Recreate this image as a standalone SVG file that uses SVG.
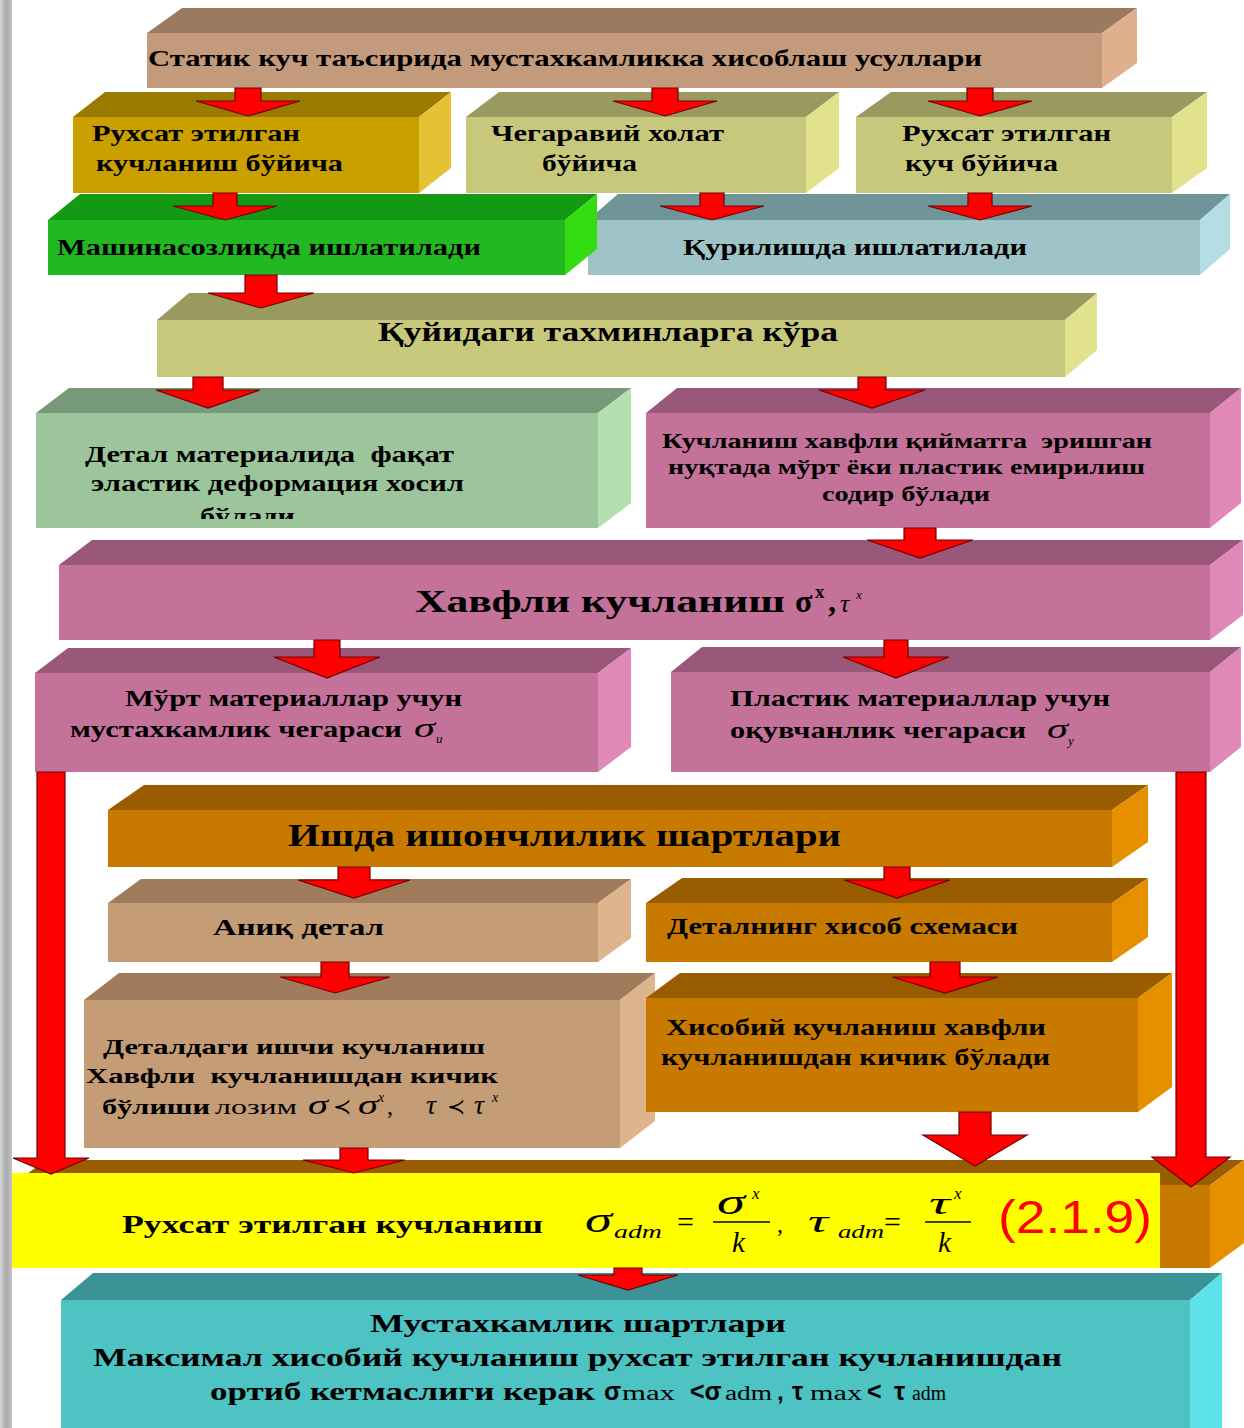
<svg xmlns="http://www.w3.org/2000/svg" width="1244" height="1428" viewBox="0 0 1244 1428">
<defs>
<style>
.t{font-family:"Liberation Serif","DejaVu Serif",serif;font-weight:bold;fill:#000}
.r{font-family:"Liberation Serif","DejaVu Serif",serif;font-weight:normal;fill:#000}
.m{font-family:"Liberation Serif","DejaVu Serif",serif;font-style:italic;font-weight:normal;fill:#000}
.s{font-family:"Liberation Sans","DejaVu Sans",sans-serif;font-weight:bold;fill:#000}
.arr{fill:#ff0000;stroke:#700000;stroke-width:1.2;stroke-linejoin:miter}
.tanT{fill:#9c7a60}.tanR{fill:#e0b08e}.tanF{fill:#c49a7c}
.goldT{fill:#9a7b00}.goldR{fill:#e5c233}.goldF{fill:#c9a000}
.oliT{fill:#9a9a60}.oliR{fill:#e2e28e}.oliF{fill:#c8c87c}
.grnT{fill:#139913}.grnR{fill:#33dd11}.grnF{fill:#22b822}
.bluT{fill:#6f9599}.bluR{fill:#b3dee4}.bluF{fill:#9ec4c8}
.lgT{fill:#78987a}.lgR{fill:#b4e0b0}.lgF{fill:#9dc59c}
.pkT{fill:#99587a}.pkR{fill:#e088b8}.pkF{fill:#c4729a}
.orT{fill:#9a5c00}.orR{fill:#e69000}.orF{fill:#c87a00}
.ltT{fill:#a07c5c}.ltR{fill:#ddb48c}.ltF{fill:#c49c76}
.tlT{fill:#3b9398}.tlR{fill:#5ee3e8}.tlF{fill:#4dc3c4}
</style>
<linearGradient id="strip" x1="0" y1="0" x2="1" y2="0">
<stop offset="0" stop-color="#d6d6d6"/><stop offset="0.5" stop-color="#a9a9a9"/><stop offset="1" stop-color="#c4c4c4"/>
</linearGradient>
<clipPath id="clipE1"><rect x="36" y="413" width="562" height="106"/></clipPath>
</defs>
<rect width="1244" height="1428" fill="#ffffff"/>
<rect x="0" y="0" width="12" height="1428" fill="url(#strip)"/>

<g id="nodeA">
<polygon class="tanT" points="147,33 182,8 1137,8 1102,33"/>
<polygon class="tanR" points="1102,33 1137,8 1137,63 1102,88"/>
<rect class="tanF" x="147" y="33" width="955" height="55"/>
<text class="t" x="148" y="66" font-size="24" textLength="834" lengthAdjust="spacingAndGlyphs">Статик куч таъсирида мустахкамликка хисоблаш усуллари</text>
</g>

<g id="nodeB1">
<polygon class="goldT" points="73,117 105,92 451,92 419,117"/>
<polygon class="goldR" points="419,117 451,92 451,168 419,193"/>
<rect class="goldF" x="73" y="117" width="346" height="76"/>
<text class="t" x="92" y="141" font-size="24" textLength="208" lengthAdjust="spacingAndGlyphs">Рухсат этилган</text>
<text class="t" x="96" y="171" font-size="24" textLength="247" lengthAdjust="spacingAndGlyphs">кучланиш бўйича</text>
</g>

<g id="nodeB2">
<polygon class="oliT" points="466,117 499,92 839,92 806,117"/>
<polygon class="oliR" points="806,117 839,92 839,168 806,193"/>
<rect class="oliF" x="466" y="117" width="340" height="76"/>
<text class="t" x="491" y="141" font-size="24" textLength="233" lengthAdjust="spacingAndGlyphs">Чегаравий холат</text>
<text class="t" x="542" y="171" font-size="24" textLength="95" lengthAdjust="spacingAndGlyphs">бўйича</text>
</g>

<g id="nodeB3">
<polygon class="oliT" points="856,117 891,92 1207,92 1172,117"/>
<polygon class="oliR" points="1172,117 1207,92 1207,168 1172,193"/>
<rect class="oliF" x="856" y="117" width="316" height="76"/>
<text class="t" x="902" y="141" font-size="24" textLength="209" lengthAdjust="spacingAndGlyphs">Рухсат этилган</text>
<text class="t" x="905" y="171" font-size="24" textLength="153" lengthAdjust="spacingAndGlyphs">куч бўйича</text>
</g>

<g id="nodeC2">
<polygon class="bluT" points="588,220 618,194 1230,194 1200,220"/>
<polygon class="bluR" points="1200,220 1230,194 1230,249 1200,275"/>
<rect class="bluF" x="588" y="220" width="612" height="55"/>
<text class="t" x="683" y="255" font-size="24" textLength="344" lengthAdjust="spacingAndGlyphs">Қурилишда ишлатилади</text>
</g>

<g id="nodeC1">
<polygon class="grnT" points="48,220 80,194 597,194 565,220"/>
<polygon class="grnR" points="565,220 597,194 597,249 565,275"/>
<rect class="grnF" x="48" y="220" width="517" height="55"/>
<text class="t" x="57" y="255" font-size="24" textLength="424" lengthAdjust="spacingAndGlyphs">Машинасозликда ишлатилади</text>
</g>

<g id="nodeD">
<polygon class="oliT" points="157,320 189,293 1097,293 1065,320"/>
<polygon class="oliR" points="1065,320 1097,293 1097,350 1065,377"/>
<rect class="oliF" x="157" y="320" width="908" height="57"/>
<text class="t" x="378" y="341" font-size="27" textLength="460" lengthAdjust="spacingAndGlyphs">Қуйидаги тахминларга кўра</text>
</g>

<g id="nodeE1">
<polygon class="lgT" points="36,413 69,388 631,388 598,413"/>
<polygon class="lgR" points="598,413 631,388 631,503 598,528"/>
<rect class="lgF" x="36" y="413" width="562" height="115"/>
<text class="t" x="85" y="462" font-size="23" textLength="369" lengthAdjust="spacingAndGlyphs" xml:space="preserve">Детал материалида  фақат</text>
<text class="t" x="91" y="491" font-size="23" textLength="373" lengthAdjust="spacingAndGlyphs">эластик деформация хосил</text>
<text class="t" x="200" y="524" font-size="23" textLength="95" lengthAdjust="spacingAndGlyphs" clip-path="url(#clipE1)">бўлади</text>
</g>

<g id="nodeE2">
<polygon class="pkT" points="646,413 677,388 1241,388 1210,413"/>
<polygon class="pkR" points="1210,413 1241,388 1241,503 1210,528"/>
<rect class="pkF" x="646" y="413" width="564" height="115"/>
<text class="t" x="662" y="448" font-size="21" textLength="490" lengthAdjust="spacingAndGlyphs" xml:space="preserve">Кучланиш хавфли қийматга  эришган</text>
<text class="t" x="668" y="474" font-size="21" textLength="477" lengthAdjust="spacingAndGlyphs">нуқтада мўрт ёки пластик емирилиш</text>
<text class="t" x="822" y="501" font-size="21" textLength="168" lengthAdjust="spacingAndGlyphs">содир бўлади</text>
</g>

<g id="nodeF">
<polygon class="pkT" points="59,565 92,540 1243,540 1210,565"/>
<polygon class="pkR" points="1210,565 1243,540 1243,615 1210,640"/>
<rect class="pkF" x="59" y="565" width="1151" height="75"/>
<text class="t" x="415" y="612" font-size="32" textLength="370" lengthAdjust="spacingAndGlyphs">Хавфли кучланиш</text>
<text class="t" x="795" y="612" font-size="32">σ</text>
<text class="t" x="815" y="598" font-size="19">x</text>
<text class="t" x="828" y="612" font-size="32">,</text>
<text class="m" x="840" y="612" font-size="26">τ</text>
<text class="m" x="856" y="599" font-size="13">x</text>
</g>

<g id="nodeG1">
<polygon class="pkT" points="35,673 68,648 631,648 598,673"/>
<polygon class="pkR" points="598,673 631,648 631,747 598,772"/>
<rect class="pkF" x="35" y="673" width="563" height="99"/>
<text class="t" x="125" y="706" font-size="23" textLength="337" lengthAdjust="spacingAndGlyphs">Мўрт материаллар учун</text>
<text class="t" x="70" y="737" font-size="23" textLength="332" lengthAdjust="spacingAndGlyphs">мустахкамлик чегараси</text>
<text class="m" x="414" y="737" font-size="28" textLength="21" lengthAdjust="spacingAndGlyphs">σ</text>
<text class="m" x="436" y="743" font-size="13">u</text>
</g>

<g id="nodeG2">
<polygon class="pkT" points="671,672 702,647 1241,647 1210,672"/>
<polygon class="pkR" points="1210,672 1241,647 1241,747 1210,772"/>
<rect class="pkF" x="671" y="672" width="539" height="100"/>
<text class="t" x="730" y="706" font-size="23" textLength="380" lengthAdjust="spacingAndGlyphs">Пластик материаллар учун</text>
<text class="t" x="730" y="738" font-size="23" textLength="296" lengthAdjust="spacingAndGlyphs">оқувчанлик чегараси</text>
<text class="m" x="1047" y="738" font-size="28" textLength="21" lengthAdjust="spacingAndGlyphs">σ</text>
<text class="m" x="1068" y="745" font-size="13">y</text>
</g>

<g id="nodeH">
<polygon class="orT" points="108,810 144,785 1148,785 1112,810"/>
<polygon class="orR" points="1112,810 1148,785 1148,842 1112,867"/>
<rect class="orF" x="108" y="810" width="1004" height="57"/>
<text class="t" x="288" y="846" font-size="32" textLength="553" lengthAdjust="spacingAndGlyphs">Ишда ишончлилик шартлари</text>
</g>

<g id="nodeI1">
<polygon class="ltT" points="108,903 141,879 631,879 598,903"/>
<polygon class="ltR" points="598,903 631,879 631,938 598,962"/>
<rect class="ltF" x="108" y="903" width="490" height="59"/>
<text class="t" x="213" y="935" font-size="23" textLength="171" lengthAdjust="spacingAndGlyphs">Аниқ детал</text>
</g>

<g id="nodeI2">
<polygon class="orT" points="646,903 682,878 1148,878 1112,903"/>
<polygon class="orR" points="1112,903 1148,878 1148,937 1112,962"/>
<rect class="orF" x="646" y="903" width="466" height="59"/>
<text class="t" x="667" y="934" font-size="23" textLength="351" lengthAdjust="spacingAndGlyphs">Деталнинг хисоб схемаси</text>
</g>

<g id="nodeJ1">
<polygon class="ltT" points="84,1000 119,973 655,973 620,1000"/>
<polygon class="ltR" points="620,1000 655,973 655,1121 620,1148"/>
<rect class="ltF" x="84" y="1000" width="536" height="148"/>
<text class="t" x="103" y="1054" font-size="22" textLength="382" lengthAdjust="spacingAndGlyphs">Деталдаги ишчи кучланиш</text>
<text class="t" x="86" y="1083" font-size="22" textLength="412" lengthAdjust="spacingAndGlyphs" xml:space="preserve">Хавфли  кучланишдан кичик</text>
<text class="t" x="102" y="1114" font-size="22" textLength="108" lengthAdjust="spacingAndGlyphs">бўлиши</text>
<text class="r" x="215" y="1114" font-size="22" textLength="82" lengthAdjust="spacingAndGlyphs">лозим</text>
<text class="m" x="308" y="1114" font-size="28" textLength="20" lengthAdjust="spacingAndGlyphs">σ</text>
<text class="r" x="333" y="1114" font-size="22" font-family="DejaVu Sans">≺</text>
<text class="m" x="358" y="1114" font-size="28" textLength="20" lengthAdjust="spacingAndGlyphs">σ</text>
<text class="m" x="378" y="1102" font-size="14">x</text>
<text class="r" x="387" y="1114" font-size="24">,</text>
<text class="m" x="426" y="1114" font-size="28">τ</text>
<text class="r" x="447" y="1114" font-size="22" font-family="DejaVu Sans">≺</text>
<text class="m" x="474" y="1114" font-size="28">τ</text>
<text class="m" x="492" y="1102" font-size="14">x</text>
</g>

<g id="nodeJ2">
<polygon class="orT" points="646,998 680,973 1172,973 1138,998"/>
<polygon class="orR" points="1138,998 1172,973 1172,1087 1138,1112"/>
<rect class="orF" x="646" y="998" width="492" height="114"/>
<text class="t" x="666" y="1035" font-size="23" textLength="380" lengthAdjust="spacingAndGlyphs">Хисобий кучланиш хавфли</text>
<text class="t" x="661" y="1065" font-size="23" textLength="389" lengthAdjust="spacingAndGlyphs">кучланишдан кичик бўлади</text>
</g>

<g id="nodeK">
<polygon class="orT" points="12,1185 46,1160 1244,1160 1210,1185"/>
<polygon class="orR" points="1210,1185 1244,1160 1244,1243 1210,1268"/>
<rect class="orF" x="12" y="1185" width="1198" height="83"/>
<rect x="12" y="1173" width="1148" height="95" fill="#ffff00"/>
<text class="t" x="122" y="1233" font-size="25" textLength="421" lengthAdjust="spacingAndGlyphs">Рухсат этилган кучланиш</text>
<text class="m" x="585" y="1232" font-size="36" textLength="27" lengthAdjust="spacingAndGlyphs">σ</text>
<text class="m" x="614" y="1238" font-size="19" textLength="48" lengthAdjust="spacingAndGlyphs">adm</text>
<text class="r" x="677" y="1232" font-size="30">=</text>
<text class="m" x="717" y="1214" font-size="36" textLength="28" lengthAdjust="spacingAndGlyphs">σ</text>
<text class="m" x="752" y="1199" font-size="17">x</text>
<line x1="713" y1="1222" x2="770" y2="1222" stroke="#000" stroke-width="1.6"/>
<text class="m" x="732" y="1252" font-size="29">k</text>
<text class="r" x="777" y="1232" font-size="24">,</text>
<text class="m" x="808" y="1232" font-size="32" textLength="20" lengthAdjust="spacingAndGlyphs">τ</text>
<text class="m" x="838" y="1238" font-size="19" textLength="46" lengthAdjust="spacingAndGlyphs">adm</text>
<text class="r" x="884" y="1232" font-size="30">=</text>
<text class="m" x="929" y="1214" font-size="32" textLength="21" lengthAdjust="spacingAndGlyphs">τ</text>
<text class="m" x="954" y="1199" font-size="17">x</text>
<line x1="925" y1="1222" x2="971" y2="1222" stroke="#000" stroke-width="1.6"/>
<text class="m" x="938" y="1252" font-size="29">k</text>
<text x="998" y="1233" font-size="46" font-family="Liberation Sans, Arial, sans-serif" fill="#ff0000" textLength="154" lengthAdjust="spacingAndGlyphs">(2.1.9)</text>
</g>

<g id="nodeL">
<polygon class="tlT" points="61,1300 93,1273 1222,1273 1190,1300"/>
<polygon class="tlR" points="1190,1300 1222,1273 1222,1428 1190,1428"/>
<rect class="tlF" x="61" y="1300" width="1129" height="128"/>
<text class="t" x="370" y="1332" font-size="25" textLength="416" lengthAdjust="spacingAndGlyphs">Мустахкамлик шартлари</text>
<text class="t" x="93" y="1366" font-size="25" textLength="969" lengthAdjust="spacingAndGlyphs">Максимал хисобий кучланиш рухсат этилган кучланишдан</text>
<text class="t" x="210" y="1400" font-size="25" textLength="385" lengthAdjust="spacingAndGlyphs">ортиб кетмаслиги керак</text>
<text class="s" x="604" y="1400" font-size="25">σ</text>
<text class="r" x="622" y="1400" font-size="20" textLength="53" lengthAdjust="spacingAndGlyphs">max</text>
<text class="s" x="690" y="1400" font-size="25">&lt;σ</text>
<text class="r" x="725" y="1400" font-size="20" textLength="47" lengthAdjust="spacingAndGlyphs">adm</text>
<text class="s" x="777" y="1400" font-size="24">,</text>
<text class="s" x="792" y="1400" font-size="25">τ</text>
<text class="r" x="810" y="1400" font-size="20" textLength="52" lengthAdjust="spacingAndGlyphs">max</text>
<text class="s" x="867" y="1400" font-size="25">&lt;</text>
<text class="s" x="894" y="1400" font-size="25">τ</text>
<text class="r" x="912" y="1400" font-size="20" textLength="34" lengthAdjust="spacingAndGlyphs">adm</text>
</g>

<g id="connectors">
<polygon class="arr" points="235,88 261,88 261,101 300,101 248,116 196,101 235,101"/>
<polygon class="arr" points="652,88 678,88 678,101 717,101 665,116 613,101 652,101"/>
<polygon class="arr" points="967,88 993,88 993,101 1032,101 980,116 928,101 967,101"/>
<polygon class="arr" points="213,193 237,193 237,206 277,206 225,220 173,206 213,206"/>
<polygon class="arr" points="700,193 724,193 724,206 764,206 712,220 660,206 700,206"/>
<polygon class="arr" points="968,193 992,193 992,206 1032,206 980,220 928,206 968,206"/>
<polygon class="arr" points="245,275 277,275 277,293 314,293 261,308 208,293 245,293"/>
<polygon class="arr" points="193,377 223,377 223,390 260,390 208,408 156,390 193,390"/>
<polygon class="arr" points="858,377 886,377 886,390 925,390 872,408 819,390 858,390"/>
<polygon class="arr" points="904,528 936,528 936,540 973,540 920,558 867,540 904,540"/>
<polygon class="arr" points="314,640 340,640 340,657 380,657 327,678 274,657 314,657"/>
<polygon class="arr" points="884,640 908,640 908,657 949,657 896,678 843,657 884,657"/>
<polygon class="arr" points="37,772 65,772 65,1158 89,1158 51,1174 13,1158 37,1158"/>
<polygon class="arr" points="1176,772 1206,772 1206,1157 1230,1157 1191,1187 1152,1157 1176,1157"/>
<polygon class="arr" points="338,867 370,867 370,880 410,880 354,898 298,880 338,880"/>
<polygon class="arr" points="884,867 910,867 910,880 950,880 897,898 844,880 884,880"/>
<polygon class="arr" points="321,962 349,962 349,977 390,977 335,993 280,977 321,977"/>
<polygon class="arr" points="930,962 960,962 960,977 998,977 945,993 892,977 930,977"/>
<polygon class="arr" points="340,1148 368,1148 368,1160 405,1160 354,1173 303,1160 340,1160"/>
<polygon class="arr" points="959,1112 991,1112 991,1135 1027,1135 975,1166 923,1135 959,1135"/>
<polygon class="arr" points="614,1268 642,1268 642,1275 678,1275 628,1290 578,1275 614,1275"/>
</g>
</svg>
